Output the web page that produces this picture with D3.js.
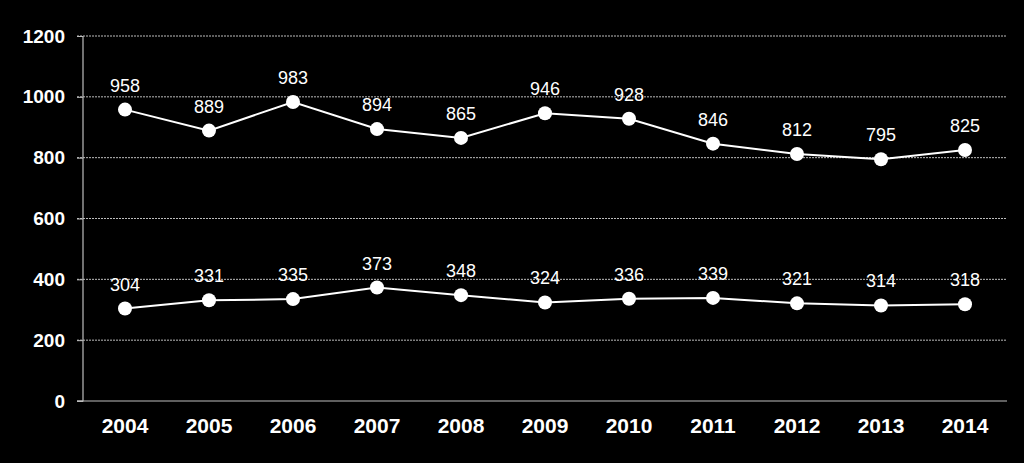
<!DOCTYPE html>
<html><head><meta charset="utf-8">
<script src="https://cdn.jsdelivr.net/npm/d3@7"></script>
<style>html,body{margin:0;padding:0;background:#000;}svg{display:block;}</style>
</head><body>
<svg id="c" width="1024" height="463"></svg>
<script>
const years = ["2004","2005","2006","2007","2008","2009","2010","2011","2012","2013","2014"];
const seriesTop = [958,889,983,894,865,946,928,846,812,795,825];
const seriesBottom = [304,331,335,373,348,324,336,339,321,314,318];
const yTicks = [0,200,400,600,800,1000,1200];

(function(){
const svg = d3.select("#c");
const mLeft = 83, mRight = 1007, mTop = 36, mBottom = 401;
const x = d3.scaleBand().domain(years).range([mLeft, mRight]);
const y = d3.scaleLinear().domain([0,1200]).range([mBottom, mTop]);

// gridlines
svg.append("g").selectAll("line").data(yTicks.filter(d=>d>0)).join("line")
  .attr("x1", mLeft-6).attr("x2", mRight).attr("y1", d=>y(d)).attr("y2", d=>y(d))
  .attr("stroke","#bdbdbd").attr("stroke-width",1).attr("stroke-dasharray","2,1");

// y axis
const ya = svg.append("g").attr("transform",`translate(${mLeft},0)`)
  .call(d3.axisLeft(y).tickValues(yTicks).tickSize(6).tickPadding(12).tickFormat(d3.format("d")));
ya.select(".domain").attr("stroke","#bdbdbd").attr("stroke-width",1.2).attr("d",`M-6,${mBottom}H0V${mTop}`);
ya.selectAll(".tick line").attr("stroke","#bdbdbd");
ya.selectAll("text").attr("fill","#fff").style("font-family","Liberation Sans, Arial, sans-serif")
  .style("font-size","19px").style("font-weight","bold");

// x axis
const xa = svg.append("g").attr("transform",`translate(0,${mBottom})`)
  .call(d3.axisBottom(x).tickSize(0).tickPadding(17));
xa.select(".domain").attr("stroke","#bdbdbd").attr("stroke-width",1.2).attr("d",`M${mLeft-6},0H${mRight}`);
xa.selectAll("text").attr("fill","#fff").style("font-family","Liberation Sans, Arial, sans-serif")
  .style("font-size","21px").style("font-weight","bold");

const cx = d => x(d) + x.bandwidth()/2;
const line = d3.line().x(d=>cx(d.year)).y(d=>y(d.v));

[seriesTop, seriesBottom].forEach(s => {
  const data = years.map((yr,i)=>({year:yr, v:s[i]}));
  svg.append("path").datum(data).attr("d", line).attr("fill","none")
    .attr("stroke","#fff").attr("stroke-width",2);
  svg.append("g").selectAll("circle").data(data).join("circle")
    .attr("cx", d=>cx(d.year)).attr("cy", d=>y(d.v)).attr("r",7).attr("fill","#fff");
  svg.append("g").selectAll("text").data(data).join("text")
    .attr("x", d=>cx(d.year)).attr("y", d=>y(d.v)-18).attr("text-anchor","middle")
    .attr("fill","#fff").style("font-family","Liberation Sans, Arial, sans-serif").style("font-size","18px")
    .text(d=>d.v);
});
})();
</script>
</body></html>
